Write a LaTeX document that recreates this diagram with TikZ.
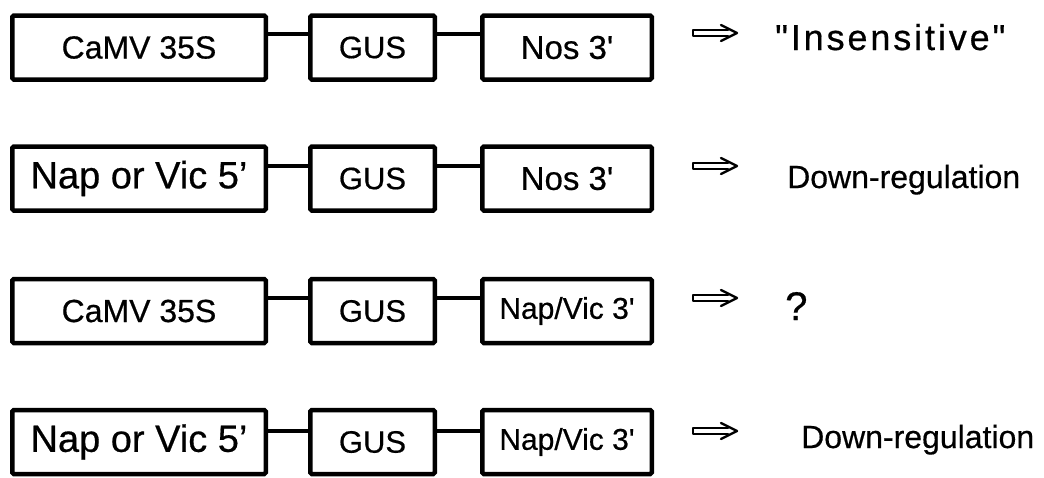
\documentclass[tikz,border=0pt]{standalone}
\usepackage{fontspec}
\newfontfamily\labfont{Liberation Sans}[FakeBold=0.5]
\newfontfamily\spacedfont{Liberation Sans}[LetterSpace=8,FakeBold=0.5]
\newcommand\fs[1]{\fontsize{#1}{#1}\selectfont}
% hollow "implies" arrow: open double shaft plus a chevron head
\newcommand\resultarrow[2]{%
  \draw[arrowline] ([shift={(-9pt,2.8pt)}]#2) -- ([yshift=2.8pt]#1) -- ([yshift=-2.8pt]#1) -- ([shift={(-9pt,-2.8pt)}]#2);
  \draw[arrowline] ([shift={(-16pt,8pt)}]#2) -- (#2) -- ([shift={(-16pt,-8pt)}]#2);
}
\begin{document}
\begin{tikzpicture}[x=1pt,y=-1pt,
  gene/.style={draw, line width=4.5pt, rounded corners=1.5pt, minimum height=64pt, inner sep=0pt},
  promoter/.style={gene, minimum width=253.5pt},
  reporter/.style={gene, minimum width=124.5pt, font=\labfont\fs{31}},
  terminator/.style={gene, minimum width=169.5pt},
  link/.style={line width=4pt},
  arrowline/.style={line width=2.4pt, line join=round, line cap=round},
  result/.style={anchor=base west, inner sep=0pt, font=\labfont\fs{32}}]
\useasboundingbox (0,0) rectangle (1044,477);

% row 1
\node[promoter, font=\labfont\fs{32}] (p1) at (139,47.5) {CaMV 35S};
\node[reporter] (g1) at (372.5,47.5) {GUS};
\node[terminator, font=\labfont\fs{33}] (t1) at (567,47.5) {Nos 3'};
\draw[link] ([yshift=14pt]p1.east) -- ([yshift=14pt]g1.west);
\draw[link] ([yshift=14pt]g1.east) -- ([yshift=14pt]t1.west);
\coordinate (a1s) at (693,33);
\coordinate (a1e) at (737,33);
\resultarrow{a1s}{a1e}
\node[result, font=\spacedfont\fs{36}] (r1) at (775,50) {"Insensitive"};

% row 2
\node[promoter, font=\labfont\fs{38}] (p2) at (139,178.5) {Nap or Vic 5’};
\node[reporter] (g2) at (372.5,178.5) {GUS};
\node[terminator, font=\labfont\fs{33}] (t2) at (567,178.5) {Nos 3'};
\draw[link] ([yshift=12.5pt]p2.east) -- ([yshift=12.5pt]g2.west);
\draw[link] ([yshift=12.5pt]g2.east) -- ([yshift=12.5pt]t2.west);
\coordinate (a2s) at (693,166);
\coordinate (a2e) at (737,166);
\resultarrow{a2s}{a2e}
\node[result] (r2) at (787,188) {Down-regulation};

% row 3
\node[promoter, font=\labfont\fs{32}] (p3) at (139,311) {CaMV 35S};
\node[reporter] (g3) at (372.5,311) {GUS};
\node[terminator, font=\labfont\fs{30}] (t3) at (567,311) {Nap/Vic 3'};
\draw[link] ([yshift=13pt]p3.east) -- ([yshift=13pt]g3.west);
\draw[link] ([yshift=13pt]g3.east) -- ([yshift=13pt]t3.west);
\coordinate (a3s) at (693,298);
\coordinate (a3e) at (737,298);
\resultarrow{a3s}{a3e}
\node[result, font=\labfont\fs{40}] (r3) at (785,320) {?};

% row 4
\node[promoter, font=\labfont\fs{38}] (p4) at (139,442) {Nap or Vic 5’};
\node[reporter] (g4) at (372.5,442) {GUS};
\node[terminator, font=\labfont\fs{30}] (t4) at (567,442) {Nap/Vic 3'};
\draw[link] ([yshift=11pt]p4.east) -- ([yshift=11pt]g4.west);
\draw[link] ([yshift=11pt]g4.east) -- ([yshift=11pt]t4.west);
\coordinate (a4s) at (693,431);
\coordinate (a4e) at (737,431);
\resultarrow{a4s}{a4e}
\node[result] (r4) at (801,448) {Down-regulation};
\end{tikzpicture}
\end{document}
